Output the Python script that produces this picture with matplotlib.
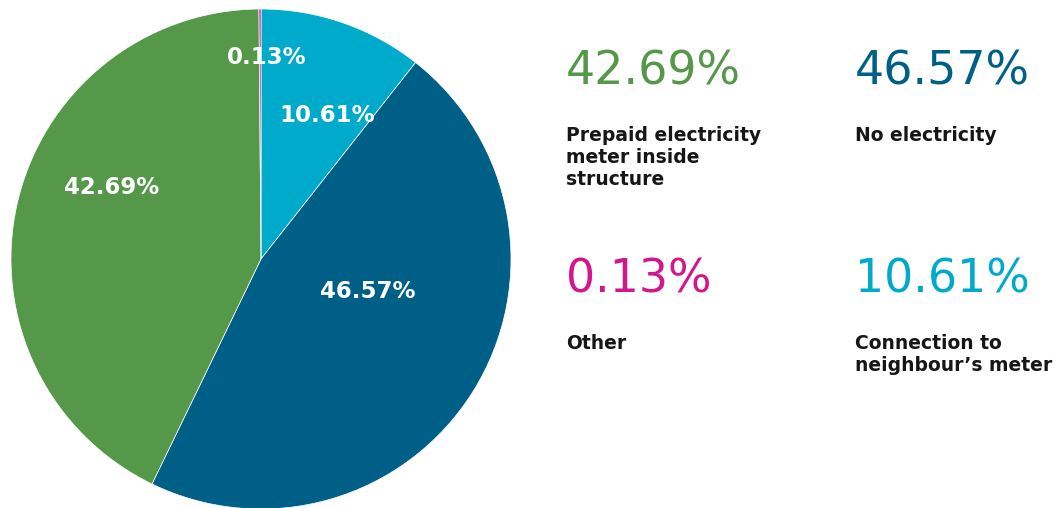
import matplotlib.pyplot as plt

# ---- data ----
labels = ["Connection to\nneighbour\u2019s meter", "No electricity",
          "Prepaid electricity\nmeter inside\nstructure", "Other"]
values = [10.61, 46.57, 42.69, 0.13]
colors = ["#00aacb", "#005f87", "#55984a", "#d4168d"]
pct_text = ["10.61%", "46.57%", "42.69%", "0.13%"]

W, H = 1061, 508
fig = plt.figure(figsize=(W / 100, H / 100), dpi=100)
ax = fig.add_axes([0, 0, 1, 1])
ax.set_xlim(0, W)
ax.set_ylim(0, H)
ax.set_aspect("equal")
ax.axis("off")

# pie, clockwise from top
ax.pie(values, colors=colors, startangle=90, counterclock=False,
       center=(261, H - 259), radius=250,
       wedgeprops=dict(edgecolor="white", linewidth=0.5))
ax.set_xlim(0, W)
ax.set_ylim(0, H)

# labels in the slices (pixel positions from the top)
inside_pos = [(327, 115), (368, 292), (112, 187), (267, 57)]
for (px, py), t in zip(inside_pos, pct_text):
    ax.text(px, H - py, t, color="white", fontsize=16.5, fontweight="bold",
            family="DejaVu Sans", ha="center", va="center")

# side panel
panel = [(566, 72, 2), (855, 72, 1), (566, 280, 3), (855, 280, 0)]
for x, y, i in panel:
    ax.text(x, H - y, pct_text[i], color=colors[i], fontsize=33,
            family="DejaVu Sans", ha="left", va="center")
    ax.text(x, H - (y + 54), labels[i], color="#161616", fontsize=13.5,
            family="DejaVu Sans", fontweight="bold", ha="left", va="top",
            linespacing=1.2)

fig.savefig("out.png", dpi=100)
